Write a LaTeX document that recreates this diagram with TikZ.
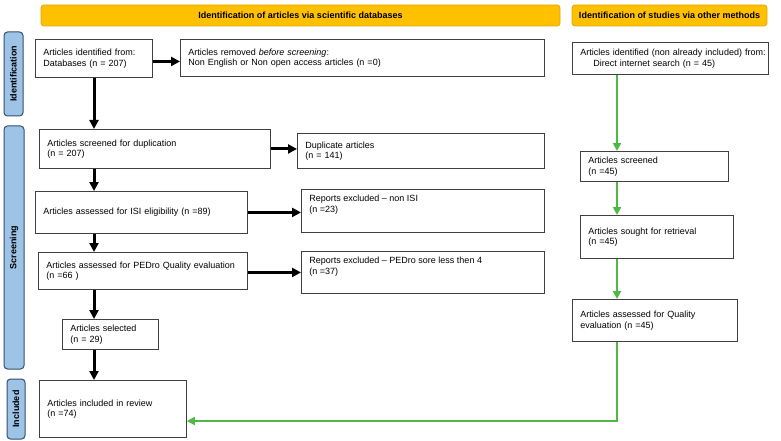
\documentclass[tikz,border=0pt]{standalone}
\usepackage{fontspec}
\setmainfont{Liberation Sans}
\usetikzlibrary{arrows.meta}
\definecolor{hdrfill}{HTML}{FFC000}
\definecolor{hdrdraw}{HTML}{E0A800}
\definecolor{sidefill}{HTML}{9DC3E6}
\definecolor{sidedraw}{HTML}{34506B}
\definecolor{boxc}{HTML}{404040}
\definecolor{grn}{RGB}{80,185,70}
\newcommand{\fs}{\fontsize{9}{10.5}\selectfont}
\tikzset{
  box/.style={draw=boxc, line width=0.9pt, inner xsep=8pt, inner ysep=0pt, anchor=north west, align=left, font=\fs},
  boxtop/.style={draw=boxc, line width=0.9pt, inner xsep=8pt, inner ysep=6pt, anchor=north west, font=\fs},
  hdr/.style={draw=hdrdraw, fill=hdrfill, line width=0.8pt, rounded corners=3pt, inner sep=0pt, font=\fs\bfseries},
  side/.style={draw=sidedraw, fill=sidefill, line width=1pt, rounded corners=3.5pt, inner sep=0pt, rotate=90, font=\fs\bfseries},
  barr/.style={line width=3pt, -{Triangle[length=9pt,width=9pt]}},
  garr/.style={grn, line width=2.5pt, -{Triangle[length=8pt,width=8pt]}}
}
\begin{document}
\begin{tikzpicture}[x=1pt,y=-1pt]
\useasboundingbox (0,0) rectangle (781,441);
% headers
\node[hdr, minimum width=519pt, minimum height=21pt] (h1) at (300.5,15.5) {Identification of articles via scientific databases};
\node[hdr, minimum width=195pt, minimum height=21pt] (h2) at (669.5,15.5) {Identification of studies via other methods};
% side labels
\node[side, minimum width=84pt, minimum height=19pt] (l1) at (13.5,74) {Identification};
\node[side, minimum width=243pt, minimum height=20pt] (l2) at (14,247.5) {Screening};
\node[side, minimum width=60pt, minimum height=18pt] (l3) at (16,409) {Included};
% boxes
\node[box, text width=101pt, minimum height=38pt] (a1) at (35,39) {Articles identified from:\\Databases (n = 207)};
\node[box, text width=348pt, minimum height=37pt] (a2) at (180,39) {Articles removed \textit{before screening}:\\Non English or Non open access articles (n =0)};
\node[box, text width=180pt, minimum height=32pt] (b1) at (572,42) {\mbox{Articles identified (non already included) from:}\\\hspace*{13pt}Direct internet search (n = 45)};
\node[box, text width=215pt, minimum height=39pt] (s1) at (39,129) {Articles screened for duplication\\(n = 207)};
\node[box, text width=231pt, minimum height=35pt] (d1) at (297,133) {Duplicate articles\\(n = 141)};
\node[box, text width=196pt, minimum height=42pt] (s2) at (35,191) {Articles assessed for ISI eligibility (n =89)};
\node[boxtop] (d2) at (301,189) {\parbox[c][31pt][t]{227pt}{\raggedright Reports excluded \textendash{} non ISI\\(n =23)}};
\node[box, text width=193pt, minimum height=37pt] (s3) at (38,252) {Articles assessed for PEDro Quality evaluation\\(n =66 )};
\node[boxtop] (d3) at (301,251) {\parbox[c][30pt][t]{227pt}{\raggedright Reports excluded \textendash{} PEDro sore less then 4\\(n =37)}};
\node[box, text width=80pt, minimum height=30pt] (s4) at (62,319) {Articles selected\\(n = 29)};
\node[box, text width=131pt, minimum height=57pt] (inc) at (39,380) {Articles included in review\\(n =74)};
\node[box, text width=132pt, minimum height=30pt] (r2) at (580,151) {Articles screened\\(n =45)};
\node[box, text width=137pt, minimum height=43pt] (r3) at (580,215) {Articles sought for retrieval\\(n =45)};
\node[box, text width=149pt, minimum height=42pt] (r4) at (572,299) {Articles assessed for Quality\\evaluation (n =45)};
% black arrows
\coordinate (vx) at (94,0);
\coordinate (a1o) at ([yshift=-3pt]a1.east);
\coordinate (s3o) at ([yshift=-1.5pt]s3.east);
\draw[barr] (a1o) -- (a1o -| a2.west);
\draw[barr] (a1.south -| vx) -- (s1.north -| vx);
\draw[barr] (s1.east) -- (s1.east -| d1.west);
\draw[barr] (s1.south -| vx) -- (s2.north -| vx);
\draw[barr] (s2.east) -- (s2.east -| d2.west);
\draw[barr] (s2.south -| vx) -- (s3.north -| vx);
\draw[barr] (s3o) -- (s3o -| d3.west);
\draw[barr] (s3.south -| vx) -- (s4.north -| vx);
\draw[barr] (s4.south -| vx) -- (inc.north -| vx);
% green arrows
\coordinate (gx) at (617,0);
\coordinate (gc) at (617,421);
\draw[garr] (b1.south -| gx) -- (r2.north -| gx);
\draw[garr] (r2.south -| gx) -- (r3.north -| gx);
\draw[garr] (r3.south -| gx) -- (r4.north -| gx);
\draw[garr] (r4.south -| gx) -- (gc) -- (gc -| inc.east);
\end{tikzpicture}
\end{document}
